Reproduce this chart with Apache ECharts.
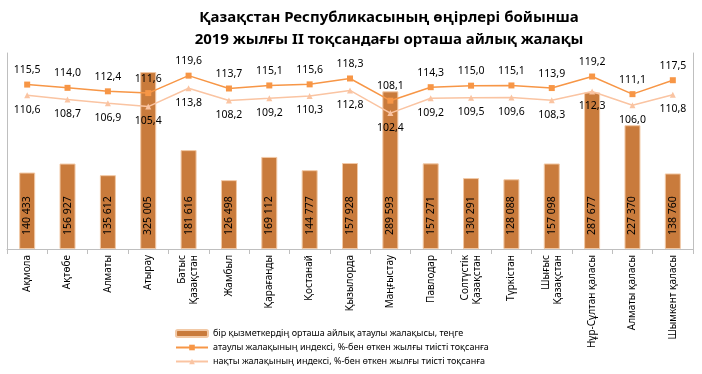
<!DOCTYPE html>
<html>
<head>
<meta charset="utf-8">
<script src="https://cdn.jsdelivr.net/npm/echarts@6/dist/echarts.min.js"></script>
<style>
html,body{margin:0;padding:0;background:#fff;}
#c{width:702px;height:374px;}
</style>
</head>
<body>
<div id="c"></div>
<script>
const categories = ['Ақмола','Ақтөбе','Алматы','Атырау','Батыс\nҚазақстан','Жамбыл','Қарағанды','Қостанай','Қызылорда','Маңғыстау','Павлодар','Солтүстік\nҚазақстан','Түркістан','Шығыс\nҚазақстан','Нұр-Сұлтан қаласы','Алматы қаласы','Шымкент қаласы'];
const wages = [140433,156927,135612,325005,181616,126498,169112,144777,157928,289593,157271,130291,128088,157098,287677,227370,138760];
const nominalIndex = [115.5,114.0,112.4,111.6,119.6,113.7,115.1,115.6,118.3,108.1,114.3,115.0,115.1,113.9,119.2,111.1,117.5];
const realIndex = [110.6,108.7,106.9,105.4,113.8,108.2,109.2,110.3,112.8,102.4,109.2,109.5,109.6,108.3,112.3,106.0,110.8];
const seriesNames = ['бір қызметкердің орташа айлық атаулы жалақысы, теңге','атаулы жалақының индексі, %-бен өткен жылғы тиісті тоқсанға','нақты жалақының индексі, %-бен өткен жылғы тиісті тоқсанға'];
const titleLines = ['Қазақстан Республикасының өңірлері бойынша','2019 жылғы II тоқсандағы орташа айлық жалақы'];

const FONT = 'Noto Sans';
const fmtThousands = v => String(v).replace(/\B(?=(\d{3})+(?!\d))/g, ' ');
const fmtDec = v => v.toFixed(1).replace('.', ',');

const chart = echarts.init(document.getElementById('c'), null, {renderer:'canvas'});
chart.setOption({
  backgroundColor:'#fff',
  animation:false,
  textStyle:{fontFamily:FONT},
  title:{
    text: titleLines.join('\n'),
    left: 384, top: 2, textAlign:'center',
    textStyle:{fontFamily:FONT,fontSize:15,fontWeight:'bold',color:'#000',lineHeight:22}
  },
  legend:{
    orient:'vertical', left:170, top:324, itemGap:5,
    itemWidth:32, itemHeight:7,
    textStyle:{fontFamily:FONT,fontSize:9,color:'#000'},
    data: seriesNames
  },
  grid:{left:7,right:9,top:53,bottom:125,containLabel:false},
  xAxis:{
    type:'category', data:categories,
    axisLine:{show:true,lineStyle:{color:'#bfbfbf'}},
    axisTick:{show:true,length:5,lineStyle:{color:'#bfbfbf'}},
    axisLabel:{rotate:90,interval:0,fontFamily:FONT,fontSize:10,color:'#000',margin:6,lineHeight:12}
  },
  yAxis:[
    {type:'value',min:0,max:360000,show:true,axisLine:{show:true,lineStyle:{color:'#bfbfbf'}},axisLabel:{show:false},axisTick:{show:false},splitLine:{show:false}},
    {type:'value',min:40,max:130,show:true,position:'right',axisLine:{show:true,lineStyle:{color:'#bfbfbf'}},axisLabel:{show:false},axisTick:{show:false},splitLine:{show:false}}
  ],
  series:[
    {
      name:seriesNames[0], type:'bar', data:wages, yAxisIndex:0,
      barWidth:16,
      itemStyle:{color:'#C97B3C',borderColor:'#F2C9A6',borderWidth:1},
      label:{show:true,position:'insideBottom',rotate:90,align:'left',verticalAlign:'middle',distance:14,
        formatter:p=>fmtThousands(p.value),fontFamily:FONT,fontSize:10.5,color:'#000'},
      z:1
    },
    {
      name:seriesNames[1], type:'line', data:nominalIndex, yAxisIndex:1,
      symbol:'rect', symbolSize:6,
      lineStyle:{color:'#F79646',width:1.5},
      itemStyle:{color:'#F79646'},
      label:{show:true,position:'top',distance:6,formatter:p=>fmtDec(p.value),fontFamily:FONT,fontSize:10.5,color:'#000'},
      z:3
    },
    {
      name:seriesNames[2], type:'line', data:realIndex, yAxisIndex:1,
      symbol:'triangle', symbolSize:6,
      lineStyle:{color:'#FAC4A2',width:1.5},
      itemStyle:{color:'#FAC4A2'},
      label:{show:true,position:'bottom',distance:6,formatter:p=>fmtDec(p.value),fontFamily:FONT,fontSize:10.5,color:'#000'},
      z:3
    }
  ]
});
</script>
</body>
</html>
